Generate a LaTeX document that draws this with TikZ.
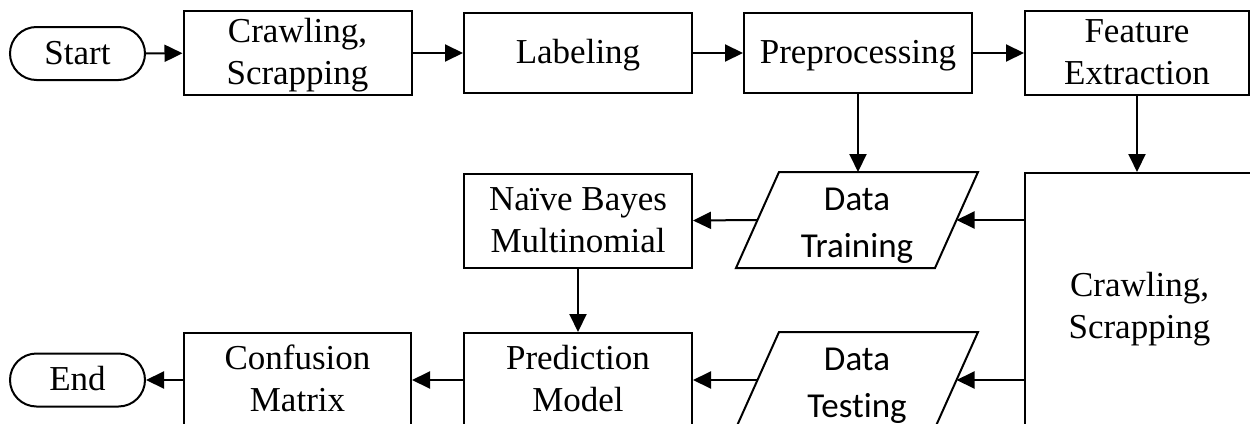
\documentclass[tikz,border=0pt]{standalone}
\usepackage{fontspec}
\setmainfont{Liberation Serif}
\newfontfamily\calfont[Ligatures=NoCommon]{Carlito}
\usetikzlibrary{arrows.meta}
\newcommand\lnstrut{\rule[-10.5pt]{0pt}{42pt}}
\newcommand\calstrut{\rule[-10pt]{0pt}{47pt}}
\begin{document}
\begin{tikzpicture}[x=1pt,y=-1pt,line width=2pt,
  txt/.style={inner sep=0pt,align=center,font=\fontsize{35}{42}\selectfont},
  box/.style={txt,draw,rectangle,minimum width=228pt,minimum height=80pt},
  tallbox/.style={txt,draw,rectangle,minimum width=228pt,minimum height=94pt},
  term/.style={txt,draw,rectangle,rounded corners=26.5pt,minimum width=135pt,minimum height=53pt},
  iobox/.style={txt,rectangle,minimum width=197pt,minimum height=94pt,font=\calfont\fontsize{35}{47}\selectfont},
  iopath/.style={draw,line join=miter},
  arr/.style={-{Triangle[length=18pt,width=17pt]}}]
\useasboundingbox (0,0) rectangle (1250,423);
\clip (0,0) rectangle (1250,423);
% top row
\node[term] (start) at (77.5,53.5) {\lnstrut Start};
\node[box] (crawl) at (297.5,53) {\lnstrut Crawling,\\\lnstrut Scrapping};
\node[box] (label) at (578,53) {\lnstrut Labeling};
\node[box] (pre) at (858,53) {\lnstrut Preprocessing};
\node[box,minimum width=224pt] (feat) at (1137,53) {\lnstrut Feature\\\lnstrut Extraction};
% middle
\node[tallbox] (nb) at (578,220.5) {\lnstrut Naïve Bayes\\\lnstrut Multinomial};
\node[iobox] (dt) at (857,220) {\calstrut Data\\\calstrut Training};
\draw[iopath] ([xshift=21.5pt]dt.north west) -- ([xshift=21.5pt]dt.north east)
  -- ([xshift=-21.5pt]dt.south east) -- ([xshift=-21.5pt]dt.south west) -- cycle;
\node[txt,draw,rectangle,minimum width=229pt,minimum height=268pt] (big) at (1139.5,307) {\lnstrut Crawling,\\\lnstrut Scrapping};
% bottom row
\node[term] (end) at (77.5,380) {\lnstrut End};
\node[tallbox,minimum width=227pt] (conf) at (297.5,380) {\lnstrut Confusion\\\lnstrut Matrix};
\node[tallbox] (pred) at (578,380) {\lnstrut Prediction\\\lnstrut Model};
\node[iobox] (dts) at (857,380) {\calstrut Data\\\calstrut Testing};
\draw[iopath] ([xshift=21.5pt]dts.north west) -- ([xshift=21.5pt]dts.north east)
  -- ([xshift=-21.5pt]dts.south east) -- ([xshift=-21.5pt]dts.south west) -- cycle;
% connectors
\draw[arr] (start) -- (crawl);
\draw[arr] (crawl) -- (label);
\draw[arr] (label) -- (pre);
\draw[arr] (pre) -- (feat);
\draw[arr] (pre.south) -- (pre.south |- dt.north);
\draw[arr] (feat.south) -- (feat.south |- big.north);
\draw[arr] (big.west |- dt.east) -- (dt.east);
\draw[arr] (dt.west) -- (nb.east);
\draw[arr] (nb.south) -- (pred.north);
\draw[arr] (big.west |- dts.east) -- (dts.east);
\draw[arr] (dts.west) -- (pred.east);
\draw[arr] (pred.west) -- (conf.east);
\draw[arr] (conf.west) -- (end.east);
\end{tikzpicture}
\end{document}
